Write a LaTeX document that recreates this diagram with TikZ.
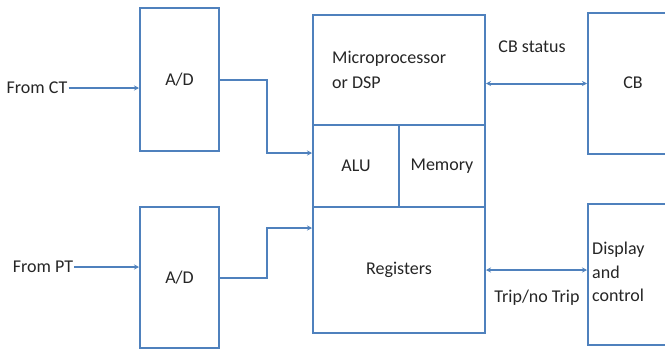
\documentclass[tikz,border=0pt]{standalone}
\usepackage{fontspec}
\setmainfont{Carlito}
\usetikzlibrary{arrows.meta}
\definecolor{boxblue}{HTML}{4F81BD}
\definecolor{txt}{HTML}{262626}
\begin{document}
\begin{tikzpicture}[x=1pt,y=-1pt,
  blk/.style={draw=boxblue,line width=2pt,rectangle,inner sep=0pt,text=txt,font=\fontsize{18}{21}\selectfont},
  lbl/.style={text=txt,font=\fontsize{18}{21}\selectfont,inner sep=1pt},
  conn/.style={draw=boxblue,line width=2pt},
  arr/.style={-{Stealth[length=5pt,width=5pt]}},
  darr/.style={{Stealth[length=5pt,width=5pt]}-{Stealth[length=5pt,width=5pt]}}]
\clip (0,0) rectangle (665,354);
\fill[white] (0,0) rectangle (665,354);
% A/D boxes
\node[blk,minimum width=79pt,minimum height=143pt] (adA) at (179.5,79.5) {A/D};
\node[blk,minimum width=79pt,minimum height=141pt] (adB) at (179.5,277.5) {A/D};
% processor
\node[blk,minimum width=172pt,minimum height=110pt] (mp) at (399,70) {};
\node[lbl,align=left,anchor=west,font=\fontsize{18}{25}\selectfont] (mptext) at (331,69.5) {Microprocessor\\or DSP};
\node[blk,minimum width=86pt,minimum height=82pt] (alu) at (356,166) {ALU};
\node[blk,minimum width=86pt,minimum height=82pt] (mem) at (442,166) {Memory};
\node[blk,minimum width=172pt,minimum height=126pt] (reg) at (399,270) {Registers};
% right boxes
\node[blk,minimum width=100pt,minimum height=141pt] (cb) at (638,83.5) {};
\node[lbl] (cbtext) at (633,83) {CB};
\node[blk,minimum width=100pt,minimum height=141pt] (disp) at (638,274.5) {};
\node[lbl,align=left,anchor=west,font=\fontsize{18}{23.5}\selectfont] (disptext) at (591,272) {Display\\and\\control};
% inputs
\node[lbl] (ct) at (37,88) {From CT};
\node[lbl] (pt) at (43,267) {From PT};
\draw[conn,arr] (ct.east) -- (ct.east -| adA.west);
\draw[conn,arr] (pt.east) -- (pt.east -| adB.west);
% A/D outputs
\coordinate (j1) at (267,153);
\coordinate (j2) at (267,228);
\draw[conn,arr] (adA.east) -| (j1) -- (j1 -| alu.west);
\draw[conn,arr] (adB.east) -| (j2) -- (j2 -| reg.west);
% bidirectional
\draw[conn,darr] (cb.west -| mp.east) -- (cb.west);
\draw[conn,darr] (reg.east) -- (reg.east -| disp.west);
\node[lbl] (cbs) at (532,47) {CB status};
\node[lbl] (trip) at (537,298) {Trip/no Trip};
\end{tikzpicture}
\end{document}
